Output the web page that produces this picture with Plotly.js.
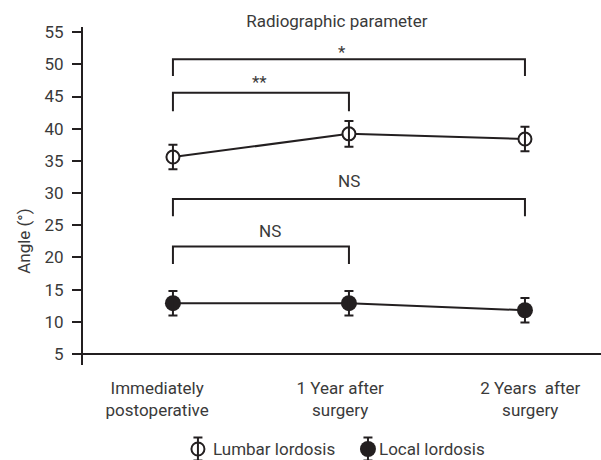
<!DOCTYPE html>
<html><head><meta charset="utf-8">
<script src="https://cdn.plot.ly/plotly-3.0.1.min.js"></script>
<style>html,body{margin:0;padding:0;background:#fff}#chart{width:601px;height:460px}</style>
</head><body><div id="chart"></div>
<script>
// ---- data ----
const categories = ["Immediately<br>postoperative", "1 Year after<br>surgery", "2 Years\u00a0 after<br>surgery"];
const categoryLabelPos = [-0.09, 0.95, 2.03];
const timePoints = [0, 1, 2];
const lumbarMean = [35.6, 39.2, 38.4];
const lumbarErr = [1.9, 2.0, 1.9];
const localMean = [12.9, 12.9, 11.8];
const localErr = [1.9, 1.9, 1.9];
const seriesNames = ["Lumbar lordosis", "Local lordosis"];
const yTicks = [5, 10, 15, 20, 25, 30, 35, 40, 45, 50, 55];
const bracketFrom = [0, 0, 0, 0];
const bracketTo = [2, 1, 2, 1];
const bracketTop = [50.8, 45.6, 29.1, 21.7];
const bracketLegBottom = [48.2, 42.7, 26.4, 19.0];
const bracketLabels = ["*", "**", "NS", "NS"];
const bracketLabelX = [0.96, 0.49, 1.0, 0.55];
const bracketLabelY = [51.9, 47.2, 31.9, 24.1];
const legendKeyX = [0.142, 1.108];
const legendTextX = [0.215, 1.16];
const legendKeyY = 0.254;
const legendKeyErr = 0.265;

// ---- style ----
const INK = '#231f20';
const TXT = '#3a3a3a';
const FONT = 'Roboto, "Liberation Sans", sans-serif';
const FS = 17;

const traces = [];
function series(xa, ya, xs, ys, errs, filled, withLine) {
  if (withLine) traces.push({x: xs, y: ys, xaxis: xa, yaxis: ya, mode: 'lines', line: {color: INK, width: 2}, hoverinfo: 'skip', showlegend: false});
  traces.push({x: xs, y: ys, xaxis: xa, yaxis: ya, mode: 'markers', cliponaxis: false,
    marker: filled ? {symbol: 'circle', size: 16, color: INK, line: {width: 0}}
                   : {symbol: 'circle', size: 13, color: '#ffffff', line: {color: INK, width: 2}},
    hoverinfo: 'skip', showlegend: false});
  traces.push({x: xs, y: ys, xaxis: xa, yaxis: ya, mode: 'markers', cliponaxis: false,
    marker: {size: 1, color: 'rgba(0,0,0,0)'},
    error_y: {type: 'data', array: errs, visible: true, color: INK, thickness: 2, width: 4.5},
    hoverinfo: 'skip', showlegend: false});
}
series('x', 'y', timePoints, lumbarMean, lumbarErr, false, true);
series('x', 'y', timePoints, localMean, localErr, true, true);

for (let i = 0; i < bracketTop.length; i++) {
  traces.push({x: [bracketFrom[i], bracketFrom[i], bracketTo[i], bracketTo[i]],
    y: [bracketLegBottom[i], bracketTop[i], bracketTop[i], bracketLegBottom[i]],
    mode: 'lines', line: {color: INK, width: 2}, hoverinfo: 'skip', showlegend: false});
}
// legend keys
series('x2', 'y2', [legendKeyX[0]], [legendKeyY], [legendKeyErr], false, false);
series('x2', 'y2', [legendKeyX[1]], [legendKeyY], [legendKeyErr], true, false);

const annotations = [];
for (let i = 0; i < bracketLabels.length; i++) {
  annotations.push({x: bracketLabelX[i], y: bracketLabelY[i], xref: 'x', yref: 'y', text: bracketLabels[i],
    showarrow: false, xanchor: 'center', yanchor: 'middle', font: {family: FONT, size: FS, color: TXT}});
}
for (let i = 0; i < seriesNames.length; i++) {
  annotations.push({x: legendTextX[i], y: legendKeyY, xref: 'x2', yref: 'y2', text: seriesNames[i],
    showarrow: false, xanchor: 'left', yanchor: 'middle', font: {family: FONT, size: FS, color: TXT}});
}
annotations.push({x: -0.114, y: 0.506, xref: 'paper', yref: 'paper', text: 'Angle (°)', textangle: -90,
  showarrow: false, xanchor: 'center', yanchor: 'middle', font: {family: FONT, size: FS, color: TXT}});

const xr = [-0.511, 2.432];
const layout = {
  width: 601, height: 460,
  margin: {l: 83, r: 0, t: 27, b: 0, pad: 0},
  paper_bgcolor: '#fff', plot_bgcolor: '#fff',
  font: {family: FONT, size: FS, color: TXT},
  title: {text: 'Radiographic parameter', font: {family: FONT, size: FS, color: TXT},
    x: 0.49, xref: 'paper', xanchor: 'center', y: 0.955, yref: 'container', yanchor: 'middle'},
  showlegend: false,
  xaxis: {range: xr, domain: [0, 1], anchor: 'y', showgrid: false, zeroline: false, showline: false,
    tickmode: 'array', tickvals: categoryLabelPos, ticktext: categories, ticks: '', ticklen: 0,
    tickfont: {family: FONT, size: FS, color: TXT}, ticklabelstandoff: 11, fixedrange: true},
  yaxis: {range: [3.3, 55.8], domain: [0.2194, 1], anchor: 'x', showgrid: false, zeroline: false,
    showline: true, linecolor: INK, linewidth: 2, ticks: 'outside', ticklen: 9, tickwidth: 2, tickcolor: INK,
    tickmode: 'array', tickvals: yTicks, tickfont: {family: FONT, size: FS, color: TXT}, ticklabelstandoff: 5, fixedrange: true},
  xaxis2: {range: xr, domain: [0, 1], anchor: 'y2', visible: false, fixedrange: true},
  yaxis2: {range: [0, 1], domain: [0, 0.1], anchor: 'x2', visible: false, fixedrange: true},
  shapes: [{type: 'line', xref: 'paper', yref: 'y', x0: 0, x1: 1, y0: yTicks[0], y1: yTicks[0],
    line: {color: INK, width: 2}}],
  annotations: annotations
};
Plotly.newPlot('chart', traces, layout, {displayModeBar: false, staticPlot: true});
</script>
</body></html>
